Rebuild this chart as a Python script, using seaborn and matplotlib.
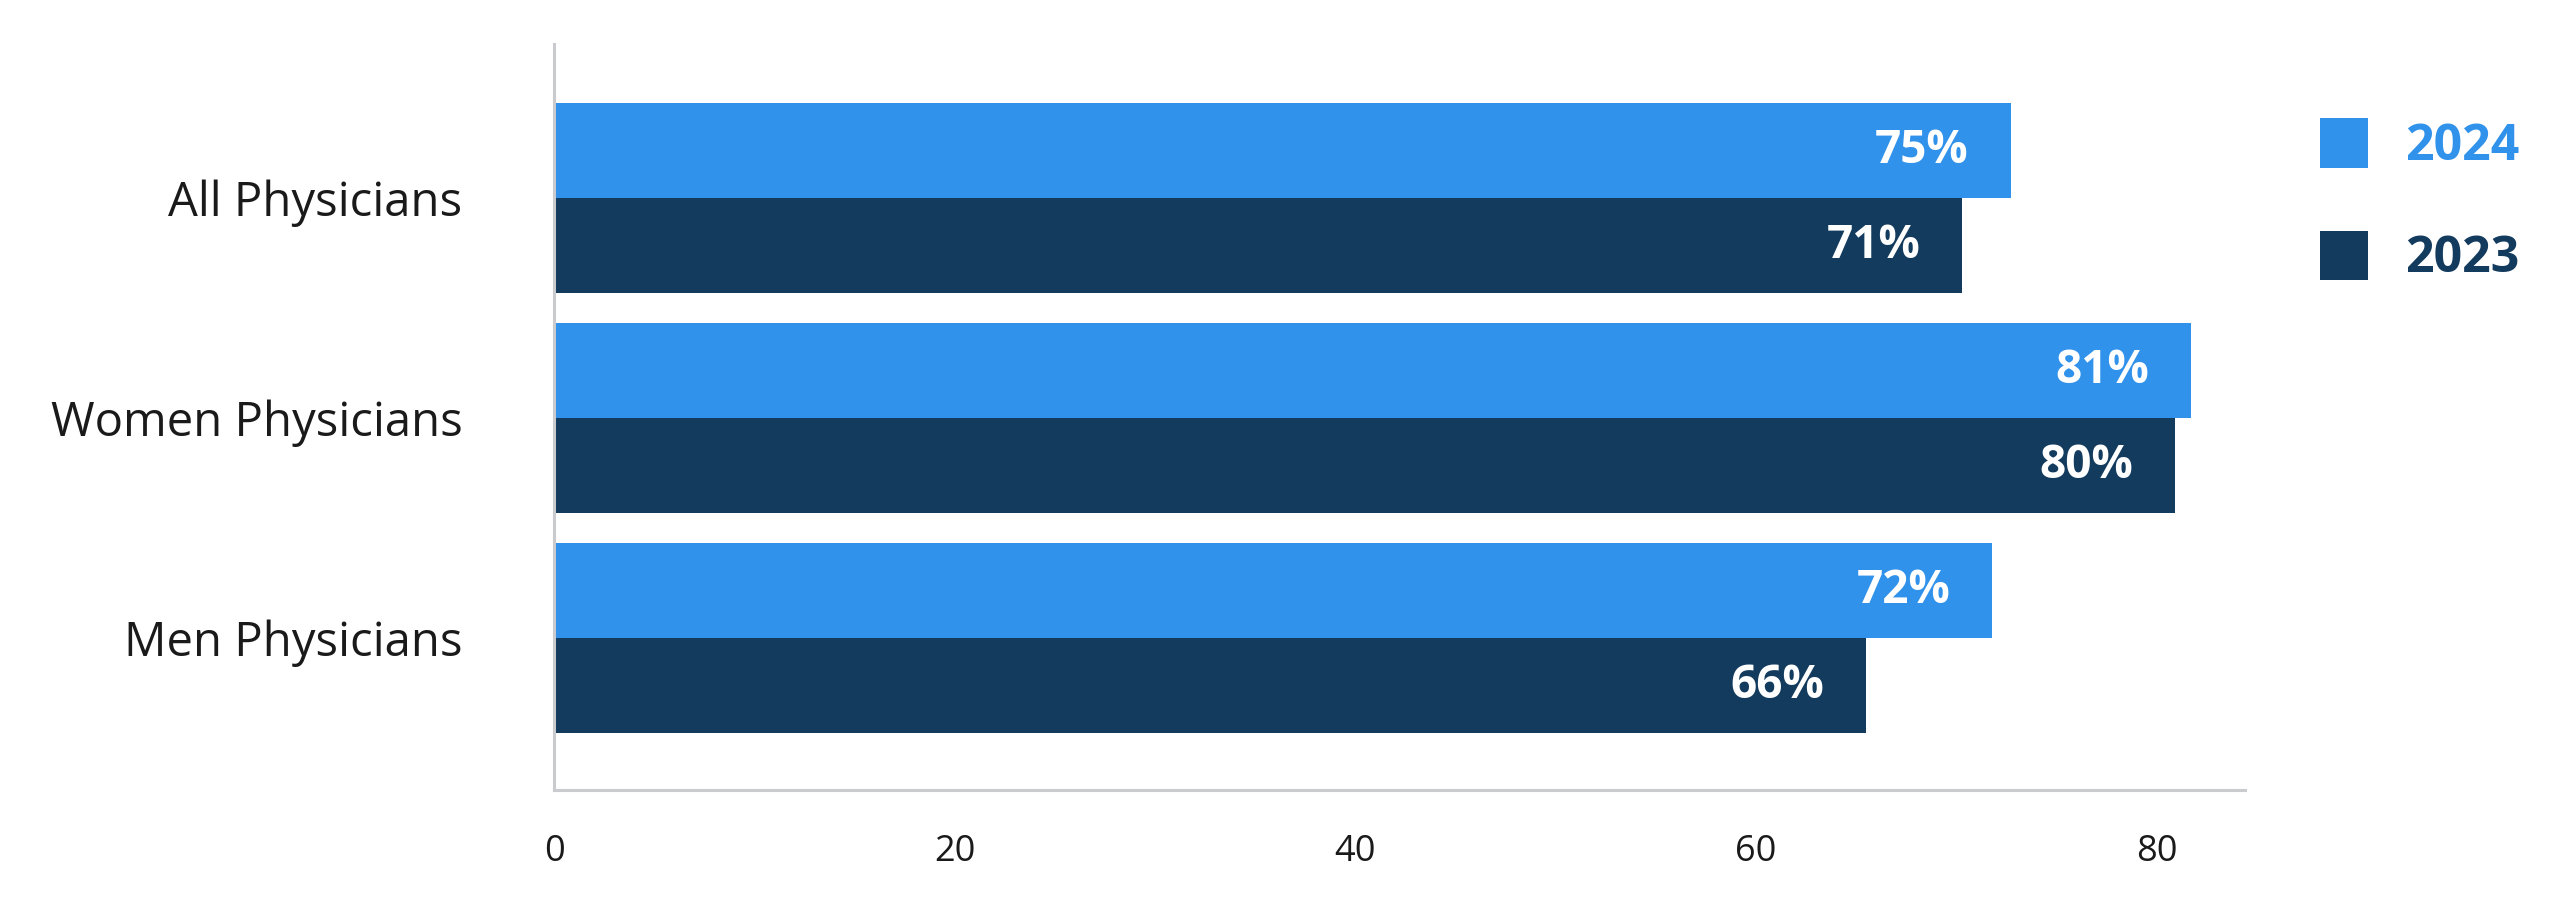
import pandas as pd
import matplotlib.pyplot as plt
import seaborn as sns

groups = ["All Physicians", "Women Physicians", "Men Physicians"]
years = ["2024", "2023"]
# bar lengths as drawn against the x axis
bar_2024 = [72.7, 81.7, 71.8]
bar_2023 = [70.3, 80.9, 65.5]
# printed labels on the bars
label_2024 = ["75%", "81%", "72%"]
label_2023 = ["71%", "80%", "66%"]
x_ticks = [0, 20, 40, 60, 80]

colors = {"2024": "#3092EA", "2023": "#133B5E"}

df = pd.DataFrame({
    "group": groups * 2,
    "year": ["2024"] * 3 + ["2023"] * 3,
    "value": bar_2024 + bar_2023,
})

sns.set_style("white")
plt.rcParams["font.family"] = ["Open Sans", "DejaVu Sans"]

fig = plt.figure(figsize=(25.7, 9.06), dpi=100)
ax = fig.add_axes([0.2156, 0.128, 0.6579, 0.8234])

sns.barplot(data=df, y="group", x="value", hue="year", hue_order=years,
            order=groups, palette=colors, saturation=1, width=0.864, gap=0,
            linewidth=0, orient="h", ax=ax)

# value labels, right aligned inside each bar
for container, labels in zip(ax.containers, [label_2024, label_2023]):
    for patch, lab in zip(container.patches, labels):
        ax.annotate(lab, (patch.get_width(), patch.get_y() + patch.get_height() / 2),
                    xytext=(-30, 0), textcoords="offset points", ha="right", va="center",
                    color="white", fontsize=33, fontweight="bold")

ax.set_xlim(0, 84.4)
ax.set_ylim(2.69, -0.70)
ax.set_xticks(x_ticks)
ax.set_xlabel("")
ax.set_ylabel("")
ax.tick_params(axis="y", length=0, pad=66, labelsize=34, labelcolor="#1a1a1a")
ax.tick_params(axis="x", length=0, pad=32, labelsize=26, labelcolor="#1a1a1a")

sns.despine(ax=ax)
for side in ["left", "bottom"]:
    ax.spines[side].set_color("#C9CBCF")
    ax.spines[side].set_linewidth(2.2)

handles, labels = ax.get_legend_handles_labels()
ax.get_legend().remove()
leg = fig.legend(handles, labels, loc="upper left", bbox_to_anchor=(0.893, 0.897),
                 frameon=False, borderpad=0, handlelength=0.96, handleheight=1.15,
                 handletextpad=0.75, labelspacing=1.17,
                 prop={"size": 36, "weight": "bold"})
for text, year in zip(leg.get_texts(), labels):
    text.set_color(colors[year])

plt.savefig("out.png", dpi=100)
plt.close()
